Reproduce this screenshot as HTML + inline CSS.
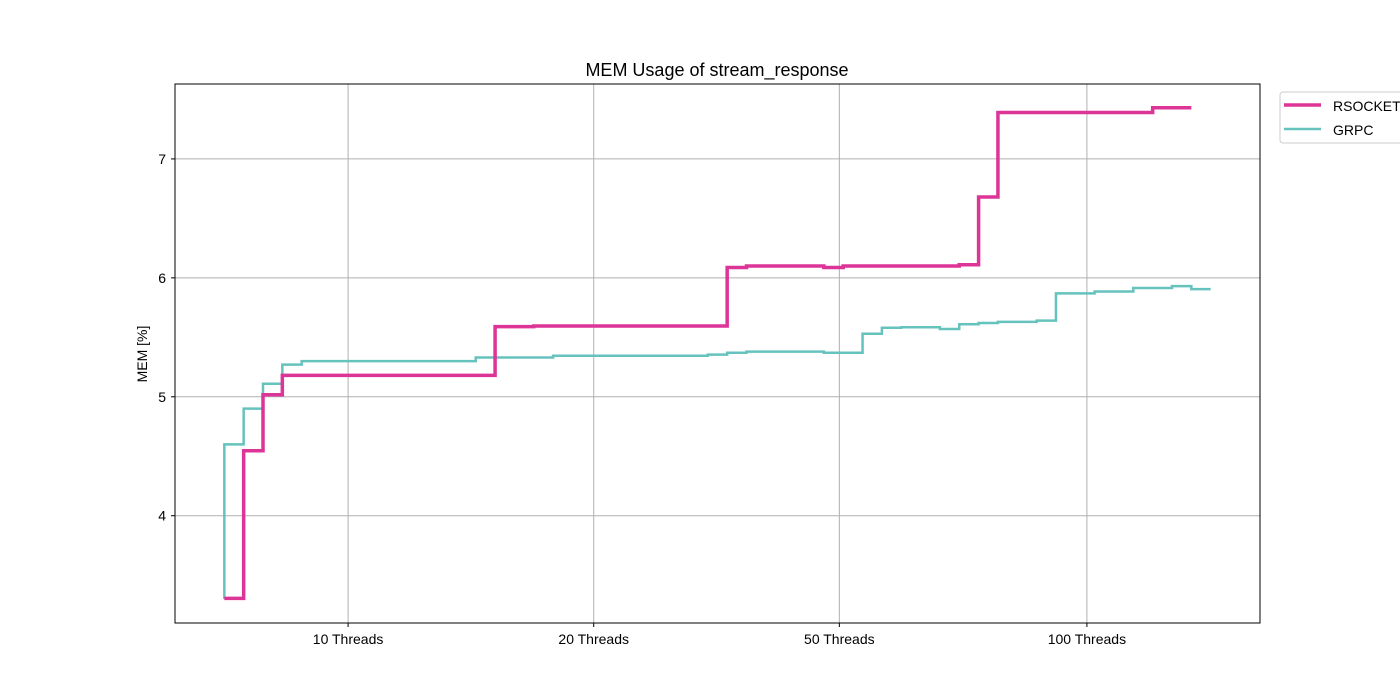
<!DOCTYPE html>
<html><head><meta charset="utf-8"><style>
body{margin:0;background:#fff;}
svg{display:block;font-family:"Liberation Sans",sans-serif;}
</style></head><body>
<svg id="chart" width="1400" height="700">
<rect x="0" y="0" width="1400" height="700" fill="#fff"/>
<text x="717" y="76" text-anchor="middle" font-size="18" fill="#000">MEM Usage of stream_response</text>
<g id="grid"></g>
<g id="series"></g>
<rect x="175" y="84" width="1085" height="539" fill="none" stroke="#000" stroke-width="1"/>
<g id="axes"></g>
<text transform="translate(147,354) rotate(-90)" text-anchor="middle" font-size="14" fill="#000">MEM [%]</text>
<g>
<rect x="1280" y="92" width="130" height="51" rx="3" fill="#fff" stroke="#ccc"/>
<line x1="1284" y1="105" x2="1321" y2="105" stroke="#dd3497" stroke-width="3.5"/>
<text x="1333" y="111" font-size="14" fill="#000">RSOCKET</text>
<line x1="1284" y1="129" x2="1321" y2="129" stroke="#66c2bd" stroke-width="2.5"/>
<text x="1333" y="135" font-size="14" fill="#000">GRPC</text>
</g>
</svg>
<script>
const xTickLabels = ["10 Threads","20 Threads","50 Threads","100 Threads"];
const xTickPos = [6.4, 19.1, 31.8, 44.6];
const yTicks = [4,5,6,7];
const rsocket = [3.305,3.305,4.546,5.017,5.18,5.18,5.18,5.18,5.18,5.18,5.18,5.18,5.18,5.18,5.18,5.59,5.59,5.595,5.595,5.595,5.595,5.595,5.595,5.595,5.595,5.595,5.595,6.087,6.10,6.10,6.10,6.10,6.087,6.10,6.10,6.10,6.10,6.10,6.10,6.11,6.68,7.39,7.39,7.39,7.39,7.39,7.39,7.39,7.39,7.43,7.43];
const grpc = [3.3,4.6,4.9,5.11,5.27,5.30,5.30,5.30,5.30,5.30,5.30,5.30,5.30,5.30,5.33,5.33,5.33,5.33,5.345,5.345,5.345,5.345,5.345,5.345,5.345,5.345,5.355,5.37,5.38,5.38,5.38,5.38,5.37,5.37,5.53,5.58,5.585,5.585,5.57,5.61,5.62,5.63,5.63,5.64,5.87,5.87,5.885,5.885,5.915,5.915,5.93,5.905];

const NS="http://www.w3.org/2000/svg";
const X0=175,X1=1260,Y0=84,Y1=623;
const xMin=-2.55,xMax=53.55,yMin=3.098,yMax=7.63;
const xs=v=>X0+(v-xMin)/(xMax-xMin)*(X1-X0);
const ys=v=>Y1-(v-yMin)/(yMax-yMin)*(Y1-Y0);
function mk(tag,attrs,parent){const e=document.createElementNS(NS,tag);for(const k in attrs)e.setAttribute(k,attrs[k]);parent.appendChild(e);return e;}
const grid=document.getElementById('grid'),axes=document.getElementById('axes'),ser=document.getElementById('series');
xTickPos.forEach((p,i)=>{
  const x=xs(p);
  const g=mk('line',{x1:x,x2:x,y1:Y0,y2:Y1,stroke:'#b0b0b0','stroke-width':1},grid);
  
  
  const t=mk('line',{x1:x,x2:x,y1:Y1,y2:Y1+4,stroke:'#000'},axes);
  
  
  const l=mk('text',{x:x,y:Y1+21,'text-anchor':'middle','font-size':14,fill:'#000'},axes);
  l.textContent=xTickLabels[i];
  
  
});
yTicks.forEach(v=>{
  const y=ys(v);
  const g=mk('line',{x1:X0,x2:X1,y1:y,y2:y,stroke:'#b0b0b0','stroke-width':1},grid);
  
  
  const t=mk('line',{x1:X0-4,x2:X0,y1:y,y2:y,stroke:'#000'},axes);
  
  
  const l=mk('text',{x:X0-9,y:y+5,'text-anchor':'end','font-size':14,fill:'#000'},axes);
  l.textContent=v;
  
  
});
function stepPath(vals){
  let d='M'+xs(0)+','+ys(vals[0]);
  for(let i=1;i<vals.length;i++){d+=' V'+ys(vals[i])+' H'+xs(i);}
  return d;
}
const pg=mk('path',{d:stepPath(grpc),fill:'none',stroke:'#66c2bd','stroke-width':2.5},ser);


const pr=mk('path',{d:stepPath(rsocket),fill:'none',stroke:'#dd3497','stroke-width':3.5},ser);


</script>
</body></html>
